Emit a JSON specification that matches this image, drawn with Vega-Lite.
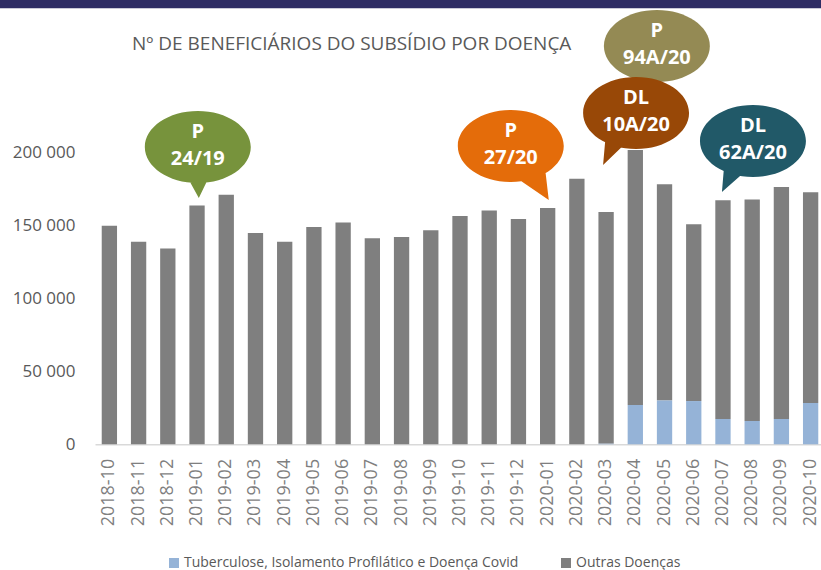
{
  "$schema": "https://vega.github.io/schema/vega-lite/v6.json",
  "autosize": {"type": "none"},
  "padding": {"left": 95, "top": 153, "right": 0, "bottom": 126},
  "width": 730,
  "height": 291.3,
  "background": "white",
  "config": {
    "font": "Open Sans",
    "view": {"stroke": null},
    "locale": {"number": {"decimal": ",", "thousands": " ", "grouping": [3], "currency": ["", " €"]}}
  },
  "title": {
    "text": "Nº DE BENEFICIÁRIOS DO SUBSÍDIO POR DOENÇA",
    "anchor": "start",
    "frame": "group",
    "dx": 37,
    "fontSize": 19,
    "fontWeight": "normal",
    "color": "#595959",
    "baseline": "middle",
    "offset": -63
  },
  "datasets": {
    "beneficiarios": [
      {"mes": "2018-10", "tipo": "Tuberculose, Isolamento Profilático e Doença Covid", "valor": 0},
      {"mes": "2018-11", "tipo": "Tuberculose, Isolamento Profilático e Doença Covid", "valor": 0},
      {"mes": "2018-12", "tipo": "Tuberculose, Isolamento Profilático e Doença Covid", "valor": 0},
      {"mes": "2019-01", "tipo": "Tuberculose, Isolamento Profilático e Doença Covid", "valor": 0},
      {"mes": "2019-02", "tipo": "Tuberculose, Isolamento Profilático e Doença Covid", "valor": 0},
      {"mes": "2019-03", "tipo": "Tuberculose, Isolamento Profilático e Doença Covid", "valor": 0},
      {"mes": "2019-04", "tipo": "Tuberculose, Isolamento Profilático e Doença Covid", "valor": 0},
      {"mes": "2019-05", "tipo": "Tuberculose, Isolamento Profilático e Doença Covid", "valor": 0},
      {"mes": "2019-06", "tipo": "Tuberculose, Isolamento Profilático e Doença Covid", "valor": 0},
      {"mes": "2019-07", "tipo": "Tuberculose, Isolamento Profilático e Doença Covid", "valor": 0},
      {"mes": "2019-08", "tipo": "Tuberculose, Isolamento Profilático e Doença Covid", "valor": 0},
      {"mes": "2019-09", "tipo": "Tuberculose, Isolamento Profilático e Doença Covid", "valor": 0},
      {"mes": "2019-10", "tipo": "Tuberculose, Isolamento Profilático e Doença Covid", "valor": 0},
      {"mes": "2019-11", "tipo": "Tuberculose, Isolamento Profilático e Doença Covid", "valor": 0},
      {"mes": "2019-12", "tipo": "Tuberculose, Isolamento Profilático e Doença Covid", "valor": 0},
      {"mes": "2020-01", "tipo": "Tuberculose, Isolamento Profilático e Doença Covid", "valor": 0},
      {"mes": "2020-02", "tipo": "Tuberculose, Isolamento Profilático e Doença Covid", "valor": 0},
      {"mes": "2020-03", "tipo": "Tuberculose, Isolamento Profilático e Doença Covid", "valor": 500},
      {"mes": "2020-04", "tipo": "Tuberculose, Isolamento Profilático e Doença Covid", "valor": 27000},
      {"mes": "2020-05", "tipo": "Tuberculose, Isolamento Profilático e Doença Covid", "valor": 30200},
      {"mes": "2020-06", "tipo": "Tuberculose, Isolamento Profilático e Doença Covid", "valor": 29700},
      {"mes": "2020-07", "tipo": "Tuberculose, Isolamento Profilático e Doença Covid", "valor": 17400},
      {"mes": "2020-08", "tipo": "Tuberculose, Isolamento Profilático e Doença Covid", "valor": 16000},
      {"mes": "2020-09", "tipo": "Tuberculose, Isolamento Profilático e Doença Covid", "valor": 17400},
      {"mes": "2020-10", "tipo": "Tuberculose, Isolamento Profilático e Doença Covid", "valor": 28400},
      {"mes": "2018-10", "tipo": "Outras Doenças", "valor": 150100},
      {"mes": "2018-11", "tipo": "Outras Doenças", "valor": 139100},
      {"mes": "2018-12", "tipo": "Outras Doenças", "valor": 134500},
      {"mes": "2019-01", "tipo": "Outras Doenças", "valor": 163900},
      {"mes": "2019-02", "tipo": "Outras Doenças", "valor": 171400},
      {"mes": "2019-03", "tipo": "Outras Doenças", "valor": 145100},
      {"mes": "2019-04", "tipo": "Outras Doenças", "valor": 139100},
      {"mes": "2019-05", "tipo": "Outras Doenças", "valor": 149200},
      {"mes": "2019-06", "tipo": "Outras Doenças", "valor": 152200},
      {"mes": "2019-07", "tipo": "Outras Doenças", "valor": 141400},
      {"mes": "2019-08", "tipo": "Outras Doenças", "valor": 142300},
      {"mes": "2019-09", "tipo": "Outras Doenças", "valor": 146900},
      {"mes": "2019-10", "tipo": "Outras Doenças", "valor": 156700},
      {"mes": "2019-11", "tipo": "Outras Doenças", "valor": 160600},
      {"mes": "2019-12", "tipo": "Outras Doenças", "valor": 154700},
      {"mes": "2020-01", "tipo": "Outras Doenças", "valor": 162200},
      {"mes": "2020-02", "tipo": "Outras Doenças", "valor": 182400},
      {"mes": "2020-03", "tipo": "Outras Doenças", "valor": 159000},
      {"mes": "2020-04", "tipo": "Outras Doenças", "valor": 175100},
      {"mes": "2020-05", "tipo": "Outras Doenças", "valor": 148300},
      {"mes": "2020-06", "tipo": "Outras Doenças", "valor": 121300},
      {"mes": "2020-07", "tipo": "Outras Doenças", "valor": 150100},
      {"mes": "2020-08", "tipo": "Outras Doenças", "valor": 152000},
      {"mes": "2020-09", "tipo": "Outras Doenças", "valor": 159300},
      {"mes": "2020-10", "tipo": "Outras Doenças", "valor": 144600}
    ],
    "baloes": [
      {"rotulo": "P\n24/19", "mes": "2019-01", "valor": 204100},
      {"rotulo": "P\n27/20", "mes": "2019-12", "valor": 204800},
      {"rotulo": "P\n94A/20", "mes": "2020-05", "valor": 273500},
      {"rotulo": "DL\n10A/20", "mes": "2020-04", "valor": 227500},
      {"rotulo": "DL\n62A/20", "mes": "2020-08", "valor": 208200}
    ]
  },
  "layer": [
    {
      "data": {"values": [{}]},
      "mark": {"type": "rect", "color": "#2E2D64", "xOffset": -95, "x2Offset": 95},
      "encoding": {"x": {"value": 0}, "x2": {"value": "width"}, "y": {"datum": 299400}, "y2": {"datum": 305100}}
    },
    {
      "data": {"name": "beneficiarios"},
      "mark": {"type": "bar"},
      "encoding": {
        "x": {
          "field": "mes", "type": "ordinal",
          "scale": {"paddingInner": 0.476, "paddingOuter": 0.23},
          "axis": {"title": null, "labelAngle": -90, "labelFontSize": 18, "labelColor": "#7f7f7f", "ticks": false, "labelPadding": 14, "domainColor": "#d9d9d9", "domainWidth": 1.5, "grid": false}
        },
        "y": {
          "field": "valor", "type": "quantitative",
          "scale": {"domain": [0, 200000], "nice": false},
          "axis": {"title": null, "values": [0, 50000, 100000, 150000, 200000], "format": ",d", "labelFontSize": 17, "labelColor": "#595959", "ticks": false, "domain": false, "labelPadding": 20, "gridColor": "#d9d9d9", "gridWidth": 1.5}
        },
        "color": {
          "field": "tipo", "type": "nominal",
          "sort": ["Tuberculose, Isolamento Profilático e Doença Covid", "Outras Doenças"],
          "scale": {"domain": ["Tuberculose, Isolamento Profilático e Doença Covid", "Outras Doenças"], "range": ["#95B3D7", "#7F7F7F"]},
          "legend": {"orient": "none", "legendX": 72, "legendY": 403, "direction": "horizontal", "title": null, "symbolType": "square", "symbolSize": 100, "symbolStrokeWidth": 0, "labelFontSize": 14, "labelLimit": 500, "labelColor": "#595959", "columnPadding": 40, "labelOffset": 3}
        }
      }
    },
    {
      "data": {"name": "baloes"},
      "transform": [{"filter": {"field": "rotulo", "oneOf": ["P\n27/20", "P\n94A/20"]}}],
      "encoding": {
        "x": {"field": "mes", "type": "ordinal", "bandPosition": 0},
        "y": {"field": "valor", "type": "quantitative"}
      },
      "layer": [
        {
          "mark": {"type": "point", "filled": true, "opacity": 1, "size": 14400, "strokeWidth": 0},
          "encoding": {
            "shape": {"field": "rotulo", "type": "nominal", "legend": null, "scale": {
              "domain": ["P\n24/19", "P\n27/20", "P\n94A/20", "DL\n10A/20", "DL\n62A/20"],
              "range": [
                "M0.883,0 C0.883,0.331 0.488,0.6 0,0.6 C-0.488,0.6 -0.883,0.331 -0.883,0 C-0.883,-0.331 -0.488,-0.6 0,-0.6 C0.488,-0.6 0.883,-0.331 0.883,0 Z M-0.267,0.333 L0.267,0.333 L0.017,0.85 Z",
                "M0.883,0 C0.883,0.331 0.488,0.6 0,0.6 C-0.488,0.6 -0.883,0.331 -0.883,0 C-0.883,-0.331 -0.488,-0.6 0,-0.6 C0.488,-0.6 0.883,-0.331 0.883,0 Z M0,0.467 L0.567,0.333 L0.633,0.9 Z",
                "M0.883,0 C0.883,0.331 0.488,0.6 0,0.6 C-0.488,0.6 -0.883,0.331 -0.883,0 C-0.883,-0.331 -0.488,-0.6 0,-0.6 C0.488,-0.6 0.883,-0.331 0.883,0 Z",
                "M0.883,0 C0.883,0.331 0.488,0.6 0,0.6 C-0.488,0.6 -0.883,0.331 -0.883,0 C-0.883,-0.331 -0.488,-0.6 0,-0.6 C0.488,-0.6 0.883,-0.331 0.883,0 Z M-0.5,0.3 L-0.083,0.417 L-0.55,0.867 Z",
                "M0.883,0 C0.883,0.331 0.488,0.6 0,0.6 C-0.488,0.6 -0.883,0.331 -0.883,0 C-0.883,-0.331 -0.488,-0.6 0,-0.6 C0.488,-0.6 0.883,-0.331 0.883,0 Z M-0.467,0.25 L-0.083,0.467 L-0.517,0.85 Z"
              ]}},
            "fill": {"field": "rotulo", "type": "nominal", "legend": null, "scale": {
              "domain": ["P\n24/19", "P\n27/20", "P\n94A/20", "DL\n10A/20", "DL\n62A/20"],
              "range": ["#77933C", "#E46C0A", "#948A54", "#984807", "#215968"]}}
          }
        },
        {
          "mark": {"type": "text", "lineBreak": "\n", "color": "white", "fontWeight": "bold", "fontSize": 20, "lineHeight": 27, "baseline": "middle", "dy": -15},
          "encoding": {"text": {"field": "rotulo"}}
        }
      ]
    },
    {
      "data": {"name": "baloes"},
      "transform": [{"filter": {"field": "rotulo", "oneOf": ["P\n24/19", "DL\n10A/20", "DL\n62A/20"]}}],
      "encoding": {
        "x": {"field": "mes", "type": "ordinal", "bandPosition": 0.55},
        "y": {"field": "valor", "type": "quantitative"}
      },
      "layer": [
        {
          "mark": {"type": "point", "filled": true, "opacity": 1, "size": 14400, "strokeWidth": 0},
          "encoding": {
            "shape": {"field": "rotulo", "type": "nominal", "legend": null, "scale": {
              "domain": ["P\n24/19", "P\n27/20", "P\n94A/20", "DL\n10A/20", "DL\n62A/20"],
              "range": [
                "M0.883,0 C0.883,0.331 0.488,0.6 0,0.6 C-0.488,0.6 -0.883,0.331 -0.883,0 C-0.883,-0.331 -0.488,-0.6 0,-0.6 C0.488,-0.6 0.883,-0.331 0.883,0 Z M-0.267,0.333 L0.267,0.333 L0.017,0.85 Z",
                "M0.883,0 C0.883,0.331 0.488,0.6 0,0.6 C-0.488,0.6 -0.883,0.331 -0.883,0 C-0.883,-0.331 -0.488,-0.6 0,-0.6 C0.488,-0.6 0.883,-0.331 0.883,0 Z M0,0.467 L0.567,0.333 L0.633,0.9 Z",
                "M0.883,0 C0.883,0.331 0.488,0.6 0,0.6 C-0.488,0.6 -0.883,0.331 -0.883,0 C-0.883,-0.331 -0.488,-0.6 0,-0.6 C0.488,-0.6 0.883,-0.331 0.883,0 Z",
                "M0.883,0 C0.883,0.331 0.488,0.6 0,0.6 C-0.488,0.6 -0.883,0.331 -0.883,0 C-0.883,-0.331 -0.488,-0.6 0,-0.6 C0.488,-0.6 0.883,-0.331 0.883,0 Z M-0.5,0.3 L-0.083,0.417 L-0.55,0.867 Z",
                "M0.883,0 C0.883,0.331 0.488,0.6 0,0.6 C-0.488,0.6 -0.883,0.331 -0.883,0 C-0.883,-0.331 -0.488,-0.6 0,-0.6 C0.488,-0.6 0.883,-0.331 0.883,0 Z M-0.467,0.25 L-0.083,0.467 L-0.517,0.85 Z"
              ]}},
            "fill": {"field": "rotulo", "type": "nominal", "legend": null, "scale": {
              "domain": ["P\n24/19", "P\n27/20", "P\n94A/20", "DL\n10A/20", "DL\n62A/20"],
              "range": ["#77933C", "#E46C0A", "#948A54", "#984807", "#215968"]}}
          }
        },
        {
          "mark": {"type": "text", "lineBreak": "\n", "color": "white", "fontWeight": "bold", "fontSize": 20, "lineHeight": 27, "baseline": "middle", "dy": -15},
          "encoding": {"text": {"field": "rotulo"}}
        }
      ]
    }
  ]
}
